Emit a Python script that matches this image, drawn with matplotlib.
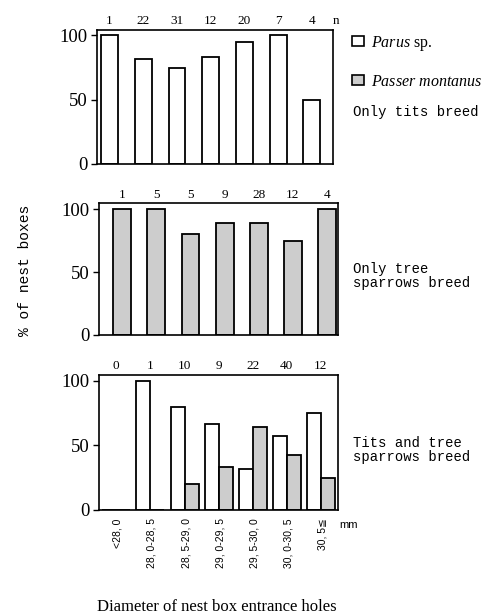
import numpy as np
import matplotlib
matplotlib.use("Agg")
import matplotlib.pyplot as plt
from matplotlib.patches import Patch

plt.rcParams['mathtext.fontset'] = 'custom'
plt.rcParams['mathtext.rm'] = 'Liberation Serif'
plt.rcParams['mathtext.it'] = 'Liberation Serif:italic'

# 巣箱入口直径クラス
classes = ["<28, 0", "28, 0-28, 5", "28, 5-29, 0", "29, 0-29, 5",
           "29, 5-30, 0", "30, 0-30, 5", "30, 5≦"]

# シジュウカラ類のみ繁殖
n_tits = [1, 22, 31, 12, 20, 7, 4]
tits_only = [100, 81.8, 74.2, 83.3, 95, 100, 50]

# スズメのみ繁殖
n_sparrows = [1, 5, 5, 9, 28, 12, 4]
sparrows_only = [100, 100, 80, 88.9, 89.3, 75, 100]

# 両方繁殖
n_both = [0, 1, 10, 9, 22, 40, 12]
both_tits = [0, 100, 80, 66.7, 32, 57.5, 75]
both_sparrows = [0, 0, 20, 33.3, 64, 42.5, 25]

grey = '#cdcdcd'
serif = 'Liberation Serif'
mono = 'Liberation Mono'

fig = plt.figure(figsize=(4.91, 6.14), dpi=100)
ax1 = fig.add_axes([0.1976, 0.7329, 0.4807, 0.2182])
ax2 = fig.add_axes([0.2016, 0.4544, 0.4868, 0.2150])
ax3 = fig.add_axes([0.2016, 0.1694, 0.4868, 0.2199])

x = np.arange(len(classes))

for ax in (ax1, ax2, ax3):
    ax.set_xlim(-0.5, 6.5)
    ax.set_yticks([0, 50, 100])
    ax.set_yticklabels(["0", "50", "100"], fontfamily=serif, fontsize=13.5)
    ax.tick_params(axis='y', direction='out', length=4, width=1, pad=3)
    ax.tick_params(axis='x', length=0)
    for s in ax.spines.values():
        s.set_linewidth(1.2)

# パネル1
ax1.set_ylim(0, 104)
ax1.bar(x - 0.13, tits_only, width=0.5, color='white', edgecolor='black', linewidth=1.3)
ax1.set_xticks([])
for xi, n in zip(x, n_tits):
    ax1.text(xi - 0.13, 106, str(n), ha='center', va='bottom', fontfamily=serif, fontsize=9.5)
ax1.text(6.58, 106, "n", ha='center', va='bottom', fontfamily=serif, fontsize=9.5)
fig.text(353 / 491, 1 - 112 / 614, "Only tits breed", ha='left', va='center',
         fontfamily=mono, fontsize=10)

# パネル2
ax2.set_ylim(0, 104.8)
ax2.bar(x + 0.18, sparrows_only, width=0.52, color=grey, edgecolor='black', linewidth=1.3)
ax2.set_xticks([])
for xi, n in zip(x, n_sparrows):
    ax2.text(xi + 0.18, 106.5, str(n), ha='center', va='bottom', fontfamily=serif, fontsize=9.5)
fig.text(353 / 491, 1 - 276 / 614, "Only tree\nsparrows breed", ha='left', va='center',
         fontfamily=mono, fontsize=10, linespacing=0.95)

# パネル3
ax3.set_ylim(0, 104.6)
ax3.bar(x - 0.2, both_tits, width=0.41, color='white', edgecolor='black', linewidth=1.3)
ax3.bar(x + 0.21, both_sparrows, width=0.41, color=grey, edgecolor='black', linewidth=1.3)
for xi, n in zip(x, n_both):
    ax3.text(xi, 107, str(n), ha='center', va='bottom', fontfamily=serif, fontsize=9.5)
ax3.set_xticks(x + 0.05)
ax3.set_xticklabels(classes, rotation=90, va='top', ha='center',
                    fontfamily=['Liberation Sans', 'DejaVu Sans'], fontsize=7.5)
ax3.tick_params(axis='x', pad=6)
fig.text(339 / 491, 1 - 525 / 614, "mm", ha='left', va='center',
         fontfamily=['Liberation Sans'], fontsize=8)
fig.text(353 / 491, 1 - 450 / 614, "Tits and tree\nsparrows breed", ha='left', va='center',
         fontfamily=mono, fontsize=10, linespacing=0.95)

# 共通ラベル
fig.text(25 / 491, 1 - 270 / 614, "% of nest boxes", rotation=90, ha='center', va='center',
         fontfamily=mono, fontsize=10.5)
fig.text(217 / 491, 1 - 611 / 614, "Diameter of nest box entrance holes", ha='center',
         va='baseline', fontfamily=serif, fontsize=12)

# 凡例
handles = [Patch(facecolor='white', edgecolor='black', linewidth=1.2),
           Patch(facecolor=grey, edgecolor='black', linewidth=1.2)]
labels = [r"$\mathit{Parus}$ sp.", r"$\mathit{Passer\ montanus}$"]
fig.legend(handles, labels, loc='upper left', bbox_to_anchor=(352 / 491, 1 - 34 / 614),
           frameon=False, prop={'family': serif, 'size': 11.5}, handlelength=0.72,
           handleheight=0.6, handletextpad=0.5, labelspacing=1.3, borderaxespad=0,
           borderpad=0)

plt.savefig("out.png", dpi=100)
